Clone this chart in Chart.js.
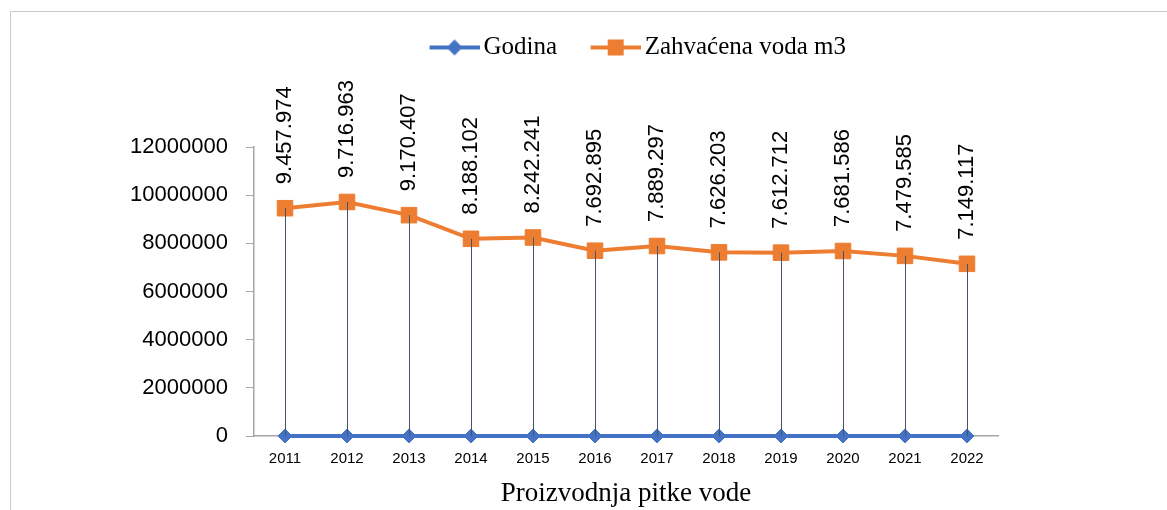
<!DOCTYPE html>
<html>
<head>
<meta charset="utf-8">
<script src="https://cdn.jsdelivr.net/npm/chart.js@4.4.1/dist/chart.umd.min.js"></script>
<style>
  html, body { margin: 0; padding: 0; background: #fff; overflow: hidden; }
  #frame { position: absolute; left: 10px; top: 11px; width: 1160px; height: 500px;
           border-left: 1px solid #c9c9c9; border-top: 1px solid #c9c9c9; }
  #chart { position: absolute; left: 0; top: 0; }
</style>
</head>
<body>
<div id="frame"></div>
<canvas id="chart" width="1167" height="510"></canvas>
<script>
const years = ['2011', '2012', '2013', '2014', '2015', '2016', '2017', '2018', '2019', '2020', '2021', '2022'];
const godina = [2011, 2012, 2013, 2014, 2015, 2016, 2017, 2018, 2019, 2020, 2021, 2022];
const zahvacenaVoda = [9457974, 9716963, 9170407, 8188102, 8242241, 7692895, 7889297, 7626203, 7612712, 7681586, 7479585, 7149117];
const yMin = 0;
const yMax = 12000000;
const yStep = 2000000;

const BLUE = '#4472c4';
const ORANGE = '#ed7d31';

// 1.234.567 style, as in the source
const fmt = v => String(v).replace(/\B(?=(\d{3})+(?!\d))/g, '.');

// legend swatch: a short line with the marker in the middle
// (left part of the canvas is left empty so items sit further apart)
function legendIcon(color, shape) {
  const c = document.createElement('canvas');
  c.width = 82; c.height = 20;
  const g = c.getContext('2d');
  g.strokeStyle = color; g.lineWidth = 4;
  g.beginPath(); g.moveTo(32, 10); g.lineTo(82, 10); g.stroke();
  g.fillStyle = color;
  if (shape === 'rect') {
    g.fillRect(49, 2, 16, 16);
  } else {
    g.beginPath();
    g.moveTo(57, 2); g.lineTo(65, 10); g.lineTo(57, 18); g.lineTo(49, 10);
    g.closePath(); g.fill();
  }
  return c;
}
const icons = [legendIcon(BLUE, 'diamond'), legendIcon(ORANGE, 'rect')];

const valueLabels = {
  id: 'valueLabels',
  afterDatasetsDraw(chart) {
    const ctx = chart.ctx;
    const meta = chart.getDatasetMeta(1);
    const base = chart.scales.y.getPixelForValue(0);
    ctx.save();
    ctx.strokeStyle = '#44546a';
    ctx.lineWidth = 1;
    meta.data.forEach(p => {
      const x = Math.round(p.x) + 0.5;
      ctx.beginPath(); ctx.moveTo(x, p.y); ctx.lineTo(x, base); ctx.stroke();
    });
    ctx.font = '22px "Liberation Sans"';
    ctx.fillStyle = '#000';
    ctx.textAlign = 'left';
    ctx.textBaseline = 'middle';
    meta.data.forEach((p, i) => {
      ctx.save();
      ctx.translate(p.x, p.y - 24);
      ctx.rotate(-Math.PI / 2);
      ctx.fillText(fmt(zahvacenaVoda[i]), 0, 0);
      ctx.restore();
    });
    ctx.restore();
  }
};

new Chart(document.getElementById('chart'), {
  type: 'line',
  data: {
    labels: years,
    datasets: [{
      label: 'Godina',
      data: godina,
      borderColor: BLUE,
      backgroundColor: BLUE,
      borderWidth: 4,
      pointStyle: 'rectRot',
      pointRadius: 7,
      pointBorderWidth: 1,
      clip: false
    }, {
      label: 'Zahvaćena voda m3',
      data: zahvacenaVoda,
      borderColor: ORANGE,
      backgroundColor: ORANGE,
      borderWidth: 4,
      pointStyle: 'rect',
      pointRadius: 11,
      pointBorderWidth: 1,
      clip: false
    }]
  },
  options: {
    responsive: false,
    animation: false,
    devicePixelRatio: 1,
    layout: { padding: { left: 10, right: 169, top: 25, bottom: 0 } },
    plugins: {
      tooltip: { enabled: false },
      legend: {
        position: 'top',
        fullSize: false,
        labels: {
          usePointStyle: true,
          pointStyleWidth: 65,
          padding: 10,
          color: '#000',
          font: { family: 'Liberation Serif', size: 25 },
          generateLabels: chart => chart.data.datasets.map((ds, i) => ({
            text: ds.label,
            pointStyle: icons[i],
            rotation: 0,
            fillStyle: ds.borderColor,
            strokeStyle: ds.borderColor,
            lineWidth: 0,
            fontColor: '#000',
            hidden: false,
            datasetIndex: i
          }))
        }
      },
      subtitle: {
        // empty spacer between the legend and the plot
        display: true,
        text: '',
        position: 'top',
        weight: 500,
        fullSize: false,
        font: { size: 10 },
        padding: { top: 0, bottom: 65 }
      },
      title: {
        display: true,
        text: 'Proizvodnja pitke vode',
        position: 'bottom',
        fullSize: false,
        color: '#000',
        font: { family: 'Liberation Serif', size: 27, weight: 'normal' },
        padding: 0
      }
    },
    scales: {
      x: {
        offset: true,
        grid: { display: false, offset: true },
        border: { display: true, color: '#a6a6a6', width: 1.5 },
        ticks: {
          color: '#000',
          font: { family: 'Liberation Sans', size: 15 },
          padding: 6,
          maxRotation: 0,
          autoSkip: false
        },
        afterFit: s => { s.height = 41.6; }
      },
      y: {
        min: yMin,
        max: yMax,
        grid: { drawOnChartArea: false, drawTicks: true, tickLength: 8, color: '#a6a6a6' },
        border: { display: true, color: '#a6a6a6', width: 1.5 },
        ticks: {
          stepSize: yStep,
          color: '#000',
          font: { family: 'Liberation Sans', size: 22 },
          padding: 18,
          callback: v => String(v)
        },
        afterFit: s => { s.width = 244; }
      }
    }
  },
  plugins: [valueLabels]
});
</script>
</body>
</html>
